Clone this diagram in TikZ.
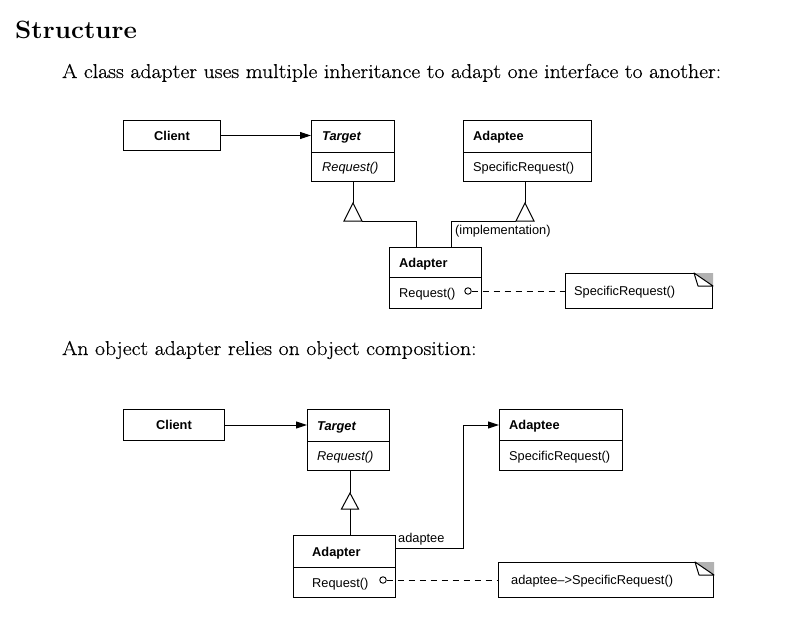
\documentclass[tikz,border=0pt]{standalone}
\usepackage{fontspec}
\newfontfamily\umlfont{Liberation Sans}
\newfontfamily\prosefont{Latin Modern Roman}[FakeStretch=1.09,FakeBold=0.5]
\newfontfamily\headfont{Latin Modern Roman}[FakeStretch=1.04]
\usetikzlibrary{arrows.meta,calc}
\begin{document}
\begin{tikzpicture}[x=1pt,y=-1pt,
  box/.style={draw,line width=1pt,inner sep=0pt,anchor=north west},
  lbl/.style={font=\umlfont\fontsize{12.8}{14}\selectfont,inner sep=0pt,anchor=base west},
  lblc/.style={lbl,anchor=base},
  link/.style={line width=1pt},
  nav/.style={link,-{Triangle[length=11pt,width=7pt]}},
  realize/.style={link,dash pattern=on 6pt off 5pt},
  gen/.style={link,fill=white,line join=miter},
  dot/.style={circle,draw,line width=0.9pt,minimum size=6.5pt,inner sep=0pt},
  prose/.style={font=\prosefont\fontsize{20}{22}\selectfont,inner sep=0pt,anchor=base west},
  heading/.style={font=\headfont\bfseries\fontsize{25}{28}\selectfont,inner sep=0pt,anchor=base west}]
\useasboundingbox (0,0) rectangle (801,618);
\fill[white] (0,0) rectangle (801,618);

% ---------- headings and prose ----------
\node[heading] (title) at (15,39) {Structure};
\node[prose] (intro1) at (62,78) {A class adapter uses multiple inheritance to adapt one interface to another:};
\node[prose] (intro2) at (62,355) {An object adapter relies on object composition:};

% ---------- class adapter ----------
\node[box,minimum width=97pt,minimum height=30pt] (c1) at (123,120) {};
\node[lblc] (c1t) at ($(c1.center)+(0,4.5)$) {\bfseries Client};

\node[box,minimum width=83pt,minimum height=31.5pt] (t1n) at (311,120) {};
\node[box,minimum width=83pt,minimum height=29.5pt] (t1m) at (311,151.5) {};
\node[lbl] (t1nt) at ($(t1n.west)+(11,4.5)$) {\bfseries\itshape Target};
\node[lbl] (t1mt) at ($(t1m.west)+(11,4.5)$) {\itshape Request()};

\node[box,minimum width=128pt,minimum height=31.5pt] (a1n) at (463,120) {};
\node[box,minimum width=128pt,minimum height=29.5pt] (a1m) at (463,151.5) {};
\node[lbl] (a1nt) at ($(a1n.west)+(10,4.5)$) {\bfseries Adaptee};
\node[lbl] (a1mt) at ($(a1m.west)+(10,4.5)$) {SpecificRequest()};

\node[box,minimum width=92pt,minimum height=30pt] (d1n) at (389,247) {};
\node[box,minimum width=92pt,minimum height=31pt] (d1m) at (389,277) {};
\node[lbl] (d1nt) at ($(d1n.west)+(10,4.5)$) {\bfseries Adapter};
\node[lbl] (d1mt) at ($(d1m.west)+(10,4.5)$) {Request()};

\node[box,minimum width=147pt,minimum height=35pt] (n1) at (565,273) {};
\node[lbl] (n1t) at ($(n1.west)+(9,4.5)$) {SpecificRequest()};
\fill[gray!60] (n1.north east) -- ++(-19,0) -- ++(19,13) -- cycle;
\draw[link,fill=white,line join=round] ($(n1.north east)+(-19,0)$) -- ($(n1.north east)+(-15,13)$) -- ($(n1.north east)+(0,13)$) -- cycle;

% client uses target
\draw[nav] (c1.east) -- (c1.east -| t1n.west);

% generalization towards Target
\coordinate (g1) at (353,221);
\draw[gen] ($(g1)+(-9,0)$) -- ($(g1)+(0,-18)$) -- ($(g1)+(9,0)$) -- cycle;
\draw[link] ($(g1)+(0,-18)$) -- (g1 |- t1m.south);
\draw[link] ($(g1)+(9,0)$) -| ($(d1n.north west)+(27,0)$);

% private inheritance from Adaptee
\coordinate (g2) at (525,221);
\draw[gen] ($(g2)+(-9,0)$) -- ($(g2)+(0,-18)$) -- ($(g2)+(9,0)$) -- cycle;
\draw[link] ($(g2)+(0,-18)$) -- (g2 |- a1m.south);
\draw[link] ($(g2)+(-9,0)$) -| ($(d1n.north west)+(62,0)$);
\node[lbl] (impl) at (455,234) {(implementation)};

% note on Request()
\node[dot] (r1) at (468,291) {};
\draw[realize] (r1.east) -- (r1.east -| n1.west);

% ---------- object adapter ----------
\node[box,minimum width=101pt,minimum height=31pt] (c2) at (123,409) {};
\node[lblc] (c2t) at ($(c2.center)+(0,4.5)$) {\bfseries Client};

\node[box,minimum width=82pt,minimum height=32pt] (t2n) at (307,409) {};
\node[box,minimum width=82pt,minimum height=29pt] (t2m) at (307,441) {};
\node[lbl] (t2nt) at ($(t2n.west)+(10,4.5)$) {\bfseries\itshape Target};
\node[lbl] (t2mt) at ($(t2m.west)+(10,4.5)$) {\itshape Request()};

\node[box,minimum width=123pt,minimum height=31pt] (a2n) at (499,409) {};
\node[box,minimum width=123pt,minimum height=30pt] (a2m) at (499,440) {};
\node[lbl] (a2nt) at ($(a2n.west)+(10,4.5)$) {\bfseries Adaptee};
\node[lbl] (a2mt) at ($(a2m.west)+(10,4.5)$) {SpecificRequest()};

\node[box,minimum width=102pt,minimum height=32pt] (d2n) at (293,535) {};
\node[box,minimum width=102pt,minimum height=30pt] (d2m) at (293,567) {};
\node[lbl] (d2nt) at ($(d2n.west)+(19,4.5)$) {\bfseries Adapter};
\node[lbl] (d2mt) at ($(d2m.west)+(19,4.5)$) {Request()};

\node[box,minimum width=215pt,minimum height=35pt] (n2) at (498,562) {};
\node[lbl] (n2t) at ($(n2.west)+(13,4.5)$) {adaptee–>SpecificRequest()};
\fill[gray!60] (n2.north east) -- ++(-19,0) -- ++(19,13) -- cycle;
\draw[link,fill=white,line join=round] ($(n2.north east)+(-19,0)$) -- ($(n2.north east)+(-15,13)$) -- ($(n2.north east)+(0,13)$) -- cycle;

% client uses target
\draw[nav] (c2.east) -- (c2.east -| t2n.west);

% generalization towards Target
\coordinate (g3) at (350,509);
\draw[gen] ($(g3)+(-8.5,0)$) -- ($(g3)+(0,-16)$) -- ($(g3)+(8.5,0)$) -- cycle;
\draw[link] ($(g3)+(0,-16)$) -- (g3 |- t2m.south);
\draw[link] (g3) -- (g3 |- d2n.north);

% adaptee reference
\draw[nav] ($(d2n.north east)+(0,13)$) -| ($(a2n.west)+(-36,0)$) -- (a2n.west);
\node[lbl] (adl) at (398,542) {adaptee};

% note on Request()
\node[dot] (r2) at (383,580) {};
\draw[realize] (r2.east) -- (r2.east -| n2.west);
\end{tikzpicture}
\end{document}
